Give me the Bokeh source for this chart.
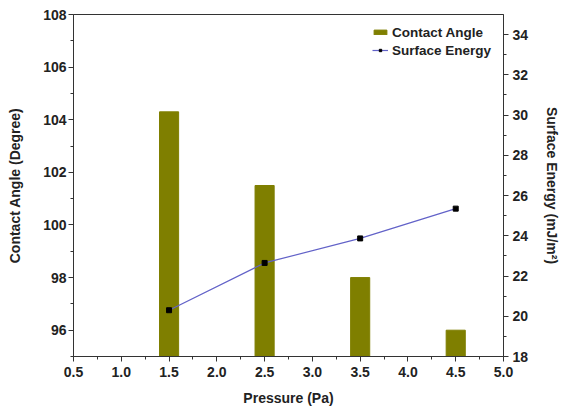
from bokeh.plotting import figure
from bokeh.models import (Range1d, LinearAxis, FixedTicker, PrintfTickFormatter,
                          Legend, LegendItem, ColumnDataSource)
from bokeh.embed import file_html
from bokeh.resources import INLINE

pressure = [1.5, 2.5, 3.5, 4.5]
contact_angle = [104.3, 101.5, 98.0, 96.0]
surface_energy = [20.3, 22.65, 23.87, 25.35]

x_ticks = [0.5, 1.0, 1.5, 2.0, 2.5, 3.0, 3.5, 4.0, 4.5, 5.0]
left_ticks = [96, 98, 100, 102, 104, 106, 108]
right_ticks = [18, 20, 22, 24, 26, 28, 30, 32, 34]

FONT = "Liberation Sans"
BAR = "#7f7f00"
LINE = "#6262c8"

p = figure(frame_width=430, frame_height=342, output_backend="svg", toolbar_location=None,
           x_range=Range1d(0.5, 5.0), y_range=Range1d(95, 108),
           min_border_left=73, min_border_right=10, min_border_top=14,
           min_border_bottom=10)
p.extra_y_ranges = {"se": Range1d(18, 35)}
p.xgrid.visible = False
p.ygrid.visible = False
p.outline_line_color = "#333333"
p.outline_line_width = 1

src_bar = ColumnDataSource(dict(x=pressure, top=contact_angle))
bars = p.vbar(x="x", top="top", bottom=95, width=0.2, source=src_bar,
              fill_color=BAR, line_color=BAR)

src_line = ColumnDataSource(dict(x=pressure, y=surface_energy))
ln = p.line(x="x", y="y", source=src_line, y_range_name="se",
            line_color=LINE, line_width=1.2)
sc = p.scatter(x="x", y="y", source=src_line, y_range_name="se", marker="square",
               size=5, fill_color="black", line_color="black")

def style(ax, lab_standoff, ax_standoff):
    ax.major_label_text_font = FONT
    ax.major_label_text_font_style = "bold"
    ax.major_label_text_font_size = "14px"
    ax.major_label_text_color = "#222222"
    ax.major_label_standoff = lab_standoff
    ax.axis_label_text_font = FONT
    ax.axis_label_text_font_style = "bold"
    ax.axis_label_text_font_size = "14px"
    ax.axis_label_text_color = "#222222"
    ax.axis_label_standoff = ax_standoff
    ax.axis_line_color = "#333333"
    ax.major_tick_line_color = "#333333"
    ax.minor_tick_line_color = "#333333"
    ax.major_tick_out = 5
    ax.major_tick_in = 0
    ax.minor_tick_out = 3
    ax.minor_tick_in = 0

xa = p.xaxis[0]
xa.ticker = FixedTicker(ticks=x_ticks, minor_ticks=[0.75 + 0.5 * i for i in range(9)])
xa.formatter = PrintfTickFormatter(format="%.1f")
xa.axis_label = "Pressure (Pa)"
style(xa, 5, 10)

ya = p.yaxis[0]
ya.ticker = FixedTicker(ticks=left_ticks, minor_ticks=[95, 97, 99, 101, 103, 105, 107])
ya.axis_label = "Contact Angle (Degree)"
style(ya, 2, 17)

ra = LinearAxis(y_range_name="se", axis_label="Surface Energy (mJ/m\u00b2)")
ra.ticker = FixedTicker(ticks=right_ticks, minor_ticks=list(range(19, 35, 2)))
style(ra, 4, 13)
p.add_layout(ra, "right")

legend = Legend(items=[LegendItem(label="Contact Angle", renderers=[bars]),
                       LegendItem(label="Surface Energy", renderers=[ln, sc])],
                location=(299, 298))
legend.label_text_font = FONT
legend.label_text_font_style = "bold"
legend.label_text_font_size = "13.5px"
legend.label_text_color = "#222222"
legend.border_line_color = None
legend.background_fill_alpha = 0
legend.padding = 0
legend.spacing = 2
legend.glyph_width = 16
legend.glyph_height = 6
legend.label_standoff = 4
legend.label_height = 16
legend.margin = 0
p.add_layout(legend, "center")

open("out.html", "w").write(file_html(p, INLINE))
